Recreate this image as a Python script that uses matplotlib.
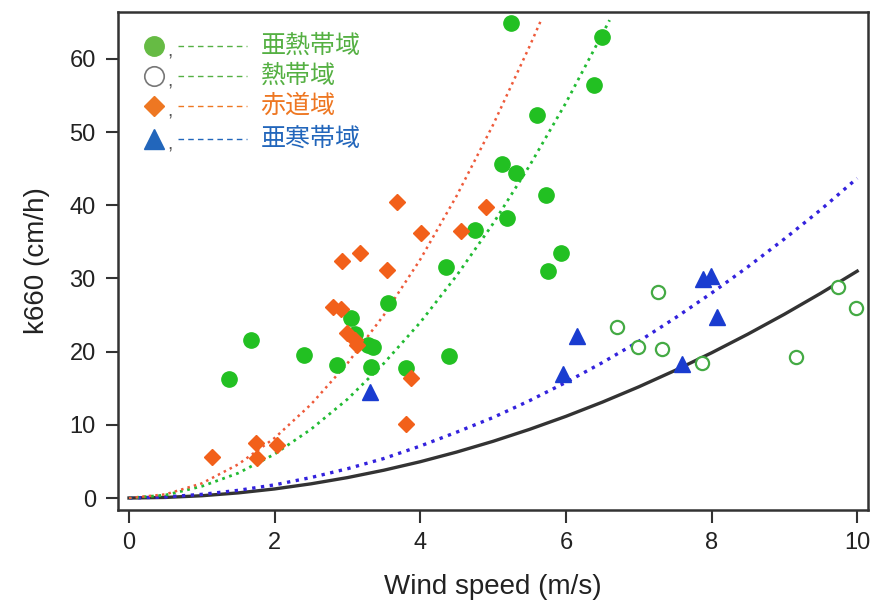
import matplotlib
matplotlib.use('Agg')
import matplotlib.pyplot as plt

plt.rcParams['font.family'] = ['Liberation Sans', 'Noto Sans CJK JP', 'DejaVu Sans']

# 亜熱帯域 (filled circles)
subtrop_x = [1.37, 1.68, 2.40, 2.86, 3.05, 3.10, 3.28, 3.35, 3.32, 3.56, 3.80, 4.35,
             4.40, 4.75, 5.12, 5.19, 5.32, 5.25, 5.60, 5.73, 5.75, 5.93, 6.39, 6.50]
subtrop_y = [16.3, 21.6, 19.5, 18.2, 24.6, 22.4, 20.9, 20.6, 17.9, 26.6, 17.8, 31.6,
             19.4, 36.6, 45.6, 38.3, 44.4, 64.9, 52.3, 41.4, 31.0, 33.5, 56.4, 63.0]

# 熱帯域 (open circles)
trop_x = [6.70, 6.99, 7.27, 7.32, 7.87, 9.16, 9.73, 9.99]
trop_y = [23.4, 20.6, 28.2, 20.4, 18.5, 19.3, 28.8, 26.0]

# 赤道域 (diamonds)
equ_x = [1.14, 1.74, 1.76, 2.03, 2.80, 2.91, 2.93, 2.99, 3.10, 3.13, 3.17, 3.54,
         3.68, 4.01, 4.56, 4.90, 3.87, 3.80]
equ_y = [5.6, 7.5, 5.5, 7.2, 26.1, 25.8, 32.4, 22.6, 21.6, 20.9, 33.5, 31.2,
         40.5, 36.2, 36.5, 39.8, 16.4, 10.1]

# 亜寒帯域 (triangles)
subarc_x = [3.31, 5.96, 6.15, 7.88, 7.99, 8.08, 7.60]
subarc_y = [14.5, 16.9, 22.1, 29.9, 30.3, 24.7, 18.3]

# fitted curves
u_full = [0, 0.5, 1, 1.5, 2, 2.5, 3, 3.5, 4, 4.5, 5, 5.5, 6, 6.5, 7, 7.5, 8, 8.5, 9, 9.5, 10]
black_k = [0, 0.08, 0.31, 0.70, 1.24, 1.94, 2.79, 3.80, 4.96, 6.28, 7.75, 9.38, 11.16,
           13.10, 15.19, 17.44, 19.84, 22.40, 25.11, 27.98, 31.0]
blue_k = [0, 0.15, 0.5, 1.05, 1.8, 2.8, 4.0, 5.4, 7.1, 9.0, 11.0, 13.3, 15.8, 18.5,
          21.4, 24.6, 28.0, 31.6, 35.4, 39.4, 43.7]
u_green = [0, 0.5, 1, 1.5, 2, 2.5, 3, 3.5, 4, 4.5, 5, 5.5, 6, 6.5, 6.6]
green_k = [0, 0.4, 1.6, 3.4, 6.0, 9.4, 13.5, 18.4, 24.0, 30.4, 37.5, 45.4, 54.0, 63.4, 65.3]
u_orange = [0, 0.5, 1, 1.5, 2, 2.5, 3, 3.5, 4, 4.5, 5, 5.5, 5.65]
orange_k = [0, 0.5, 2.0, 4.6, 8.2, 12.8, 18.4, 25.0, 32.6, 41.3, 51.0, 61.7, 65.1]

labels = ['亜熱帯域', '熱帯域', '赤道域', '亜寒帯域']

C_GREEN = '#22c022'
C_ORANGE = '#f2601a'
C_BLUE = '#1a3cd0'

fig = plt.figure(figsize=(8.76, 6.05), dpi=100)
ax = fig.add_axes([0.1347, 0.157, 0.991 - 0.1347, 0.980 - 0.157])

# curves
ax.plot(u_full, black_k, '-', color='#333333', lw=2.4, zorder=2)
ax.plot(u_full, blue_k, ':', color='#3322dd', lw=2.4, zorder=2)
ax.plot(u_green, green_k, ':', color='#22bb33', lw=2.0, zorder=2)
ax.plot(u_orange, orange_k, ':', color='#ee5a3a', lw=1.8, zorder=2)

# points
ax.plot(subtrop_x, subtrop_y, 'o', ms=11, color=C_GREEN, mec=C_GREEN, ls='none', zorder=3)
ax.plot(trop_x, trop_y, 'o', ms=9.5, mfc='white', mec='#44aa44', mew=1.6, ls='none', zorder=3)
ax.plot(equ_x, equ_y, 'D', ms=8.5, color=C_ORANGE, mec=C_ORANGE, ls='none', zorder=3)
ax.plot(subarc_x, subarc_y, '^', ms=11, color=C_BLUE, mec=C_BLUE, ls='none', zorder=3)

ax.set_xlim(-0.151, 10.15)
ax.set_ylim(-1.64, 66.4)
ax.set_xticks([0, 2, 4, 6, 8, 10])
ax.set_yticks([0, 10, 20, 30, 40, 50, 60])
ax.tick_params(direction='out', length=9, width=1.5, labelsize=17, colors='#333333',
               labelcolor='#222222', pad=7)
for s in ax.spines.values():
    s.set_linewidth(1.8)
    s.set_color('#333333')

ax.set_xlabel('Wind speed (m/s)', fontsize=20, color='#222222', labelpad=14)
ax.set_ylabel('k660 (cm/h)', fontsize=20, color='#222222', labelpad=14)

# hand-made legend in the upper left
leg_rows_y = [0.932, 0.871, 0.811, 0.745]
leg_marker = [dict(marker='o', ms=14, color='#66bb44', mec='#66bb44'),
              dict(marker='o', ms=14, mfc='white', mec='#777777', mew=1.2),
              dict(marker='D', ms=10.5, color='#ee7722', mec='#ee7722'),
              dict(marker='^', ms=15, color='#2266bb', mec='#2266bb')]
leg_text_col = ['#55b043', '#55b043', '#ee7722', '#2266bb']
for yy, mk, lab, tc in zip(leg_rows_y, leg_marker, labels, leg_text_col):
    ax.plot([0.048], [yy], transform=ax.transAxes, ls='none', clip_on=False, zorder=4, **mk)
    ax.text(0.066, yy - 0.012, ',', transform=ax.transAxes, fontsize=14, color='#555555',
            va='center', ha='left')
    ax.plot([0.08, 0.172], [yy, yy], transform=ax.transAxes, ls=(0, (4, 3)), lw=1.0,
            color=tc, zorder=4)
    ax.text(0.19, yy, lab, transform=ax.transAxes, fontsize=18, color=tc,
            va='center', ha='left')

fig.savefig('out.png', dpi=100)
